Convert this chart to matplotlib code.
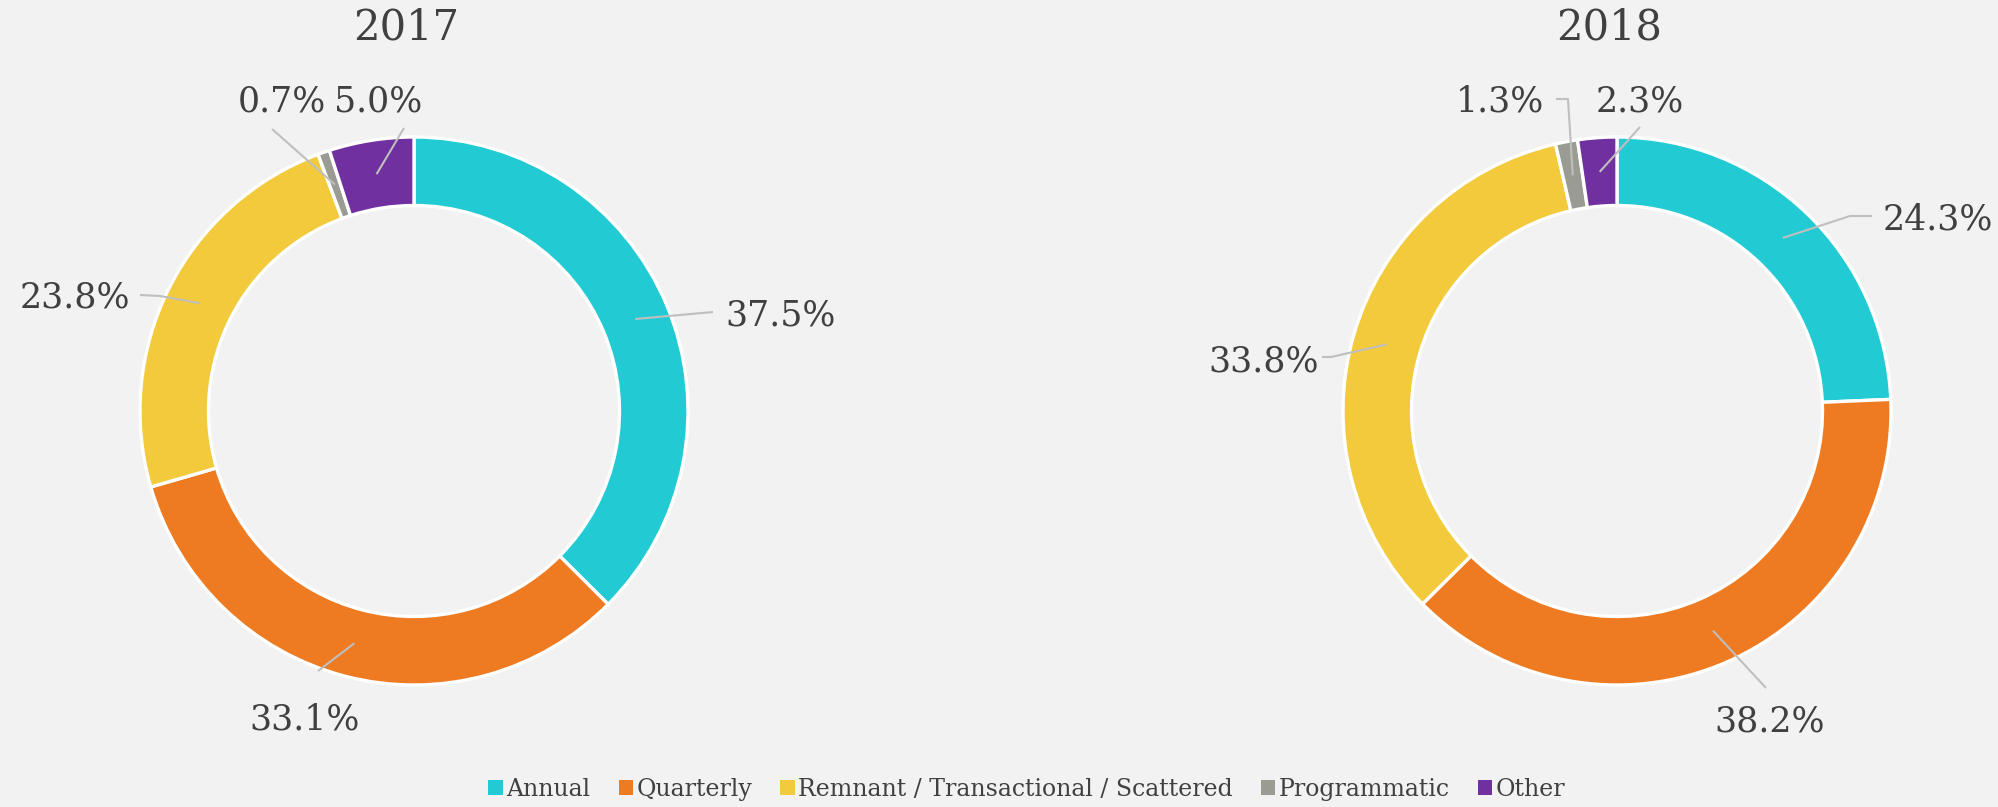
import matplotlib
matplotlib.use('Agg')
import matplotlib.pyplot as plt
import numpy as np
from matplotlib.patches import Patch

categories = ['Annual', 'Quarterly', 'Remnant / Transactional / Scattered', 'Programmatic', 'Other']
values_2017 = [37.5, 33.1, 23.8, 0.7, 5.0]
values_2018 = [24.3, 38.2, 33.8, 1.3, 2.3]
years = ['2017', '2018']
colors = ['#22CBD4', '#EE7B22', '#F2CA3C', '#9A9B93', '#7030A0']

BG = '#F2F2F2'
TXT = '#404040'
LINE = '#BFBFBF'
FONT = 'DejaVu Serif'

W, H = 1998, 807
fig = plt.figure(figsize=(W / 100, H / 100), dpi=100, facecolor=BG)
ax = fig.add_axes([0, 0, 1, 1])

R = 274
WIDTH = 0.25 * R
centers = [(414, 396), (1617, 396)]
title_pos = [(406, 779), (1609, 779)]

# label layout (pixel coordinates): text position and leader-line path near the text
layouts = [
    [((781, 491), [(713, 495)]),
     ((305, 87), [(318, 136)]),
     ((75, 510), [(160, 511), (140, 512)]),
     ((282, 706), [(272, 678)]),
     ((378, 706), [(404, 679)])],
    [((1938, 588), [(1850, 591), (1872, 591)]),
     ((1770, 85), [(1766, 119)]),
     ((1264, 446), [(1331, 450), (1322, 450)]),
     ((1500, 706), [(1568, 708), (1556, 708)]),
     ((1640, 706), [(1640, 680)])],
]

for vals, c, yr, tp, lay in zip([values_2017, values_2018], centers, years, title_pos, layouts):
    wedges, _ = ax.pie(vals, colors=colors, startangle=90, counterclock=False,
                       radius=R, center=c,
                       wedgeprops=dict(width=WIDTH, edgecolor='white', linewidth=2.4))
    ax.text(tp[0], tp[1], yr, ha='center', va='center', fontsize=30,
            family=FONT, color=TXT)
    for w, v, (txy, path) in zip(wedges, vals, lay):
        ang = np.deg2rad((w.theta1 + w.theta2) / 2)
        rr = R - WIDTH / 2
        sx, sy = c[0] + rr * np.cos(ang), c[1] + rr * np.sin(ang)
        xs = [sx] + [p[0] for p in path]
        ys = [sy] + [p[1] for p in path]
        ax.plot(xs, ys, color=LINE, lw=1.5, solid_capstyle='butt')
        ax.text(txy[0], txy[1], f'{v:.1f}%', ha='center', va='center',
                fontsize=25, family=FONT, color=TXT)

ax.set_xlim(0, W)
ax.set_ylim(0, H)
ax.set_aspect('equal')
ax.axis('off')

handles = [Patch(facecolor=col, edgecolor='none') for col in colors]
leg = fig.legend(handles, categories, loc='center', bbox_to_anchor=(0.514, 0.022),
                 ncol=5, frameon=False, handlelength=0.6, handleheight=0.6,
                 handletextpad=0.15, columnspacing=1.2, borderpad=0.0,
                 prop=dict(family=FONT, size=17))
for t in leg.get_texts():
    t.set_color(TXT)

fig.savefig('out.png', dpi=100, facecolor=BG)
